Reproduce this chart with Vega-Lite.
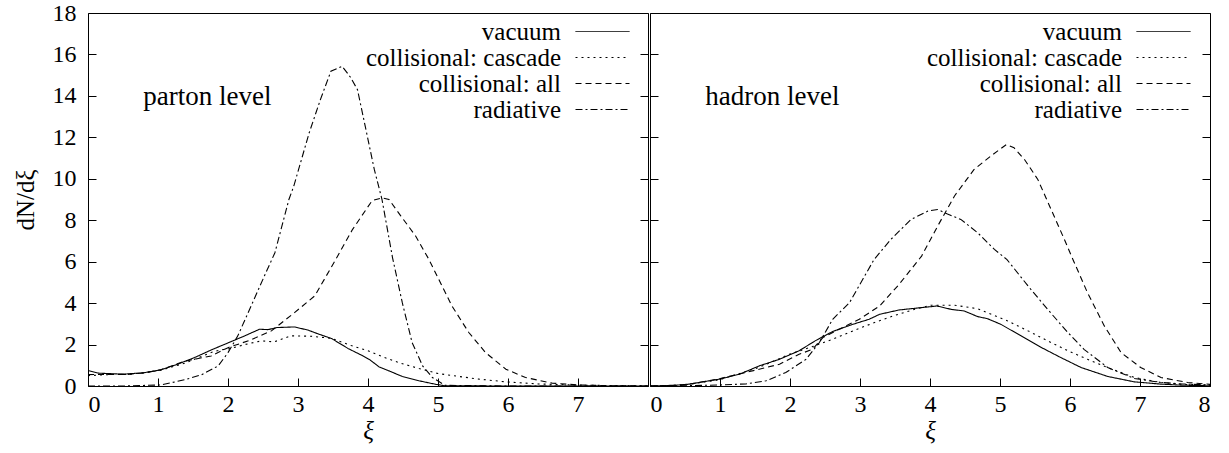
{
  "$schema": "https://vega.github.io/schema/vega-lite/v6.json",
  "background": "white",
  "padding": {"left": 12, "top": 0, "right": 0, "bottom": 0},
  "spacing": 0,
  "config": {
    "font": "'Liberation Serif', 'DejaVu Serif', serif",
    "view": {"stroke": "black", "strokeWidth": 1},
    "axis": {"domain": false, "grid": false, "tickColor": "black", "tickSize": -8, "tickWidth": 1, "labelColor": "black", "labelFont": "'Liberation Serif', 'DejaVu Serif', serif", "labelFontSize": 24, "titleFont": "'Liberation Serif', 'DejaVu Serif', serif", "titleFontSize": 25, "titleColor": "black", "titleFontWeight": "normal"},
    "legend": {"title": null, "orient": "none", "padding": 0, "labelFont": "'Liberation Serif', 'DejaVu Serif', serif", "labelFontSize": 25, "labelColor": "black", "labelAlign": "right", "labelOffset": -54, "labelLimit": 400, "symbolType": "M-2.7,0L2.7,0", "symbolSize": 400, "symbolStrokeWidth": 1, "symbolStrokeColor": "black", "symbolFillColor": "transparent", "symbolOpacity": 1, "rowPadding": -1}
  },
  "resolve": {"scale": {"strokeDash": "independent"}, "legend": {"strokeDash": "independent"}},
  "datasets": {
    "d": [
      {"p":"parton","s":"vacuum","x":0,"y":0.75},{"p":"parton","s":"vacuum","x":0.15,"y":0.62},{"p":"parton","s":"vacuum","x":0.5,"y":0.57},{"p":"parton","s":"vacuum","x":0.8,"y":0.64},{"p":"parton","s":"vacuum","x":1.04,"y":0.78},{"p":"parton","s":"vacuum","x":1.28,"y":1.05},{"p":"parton","s":"vacuum","x":1.52,"y":1.37},{"p":"parton","s":"vacuum","x":1.76,"y":1.74},{"p":"parton","s":"vacuum","x":2.0,"y":2.08},{"p":"parton","s":"vacuum","x":2.24,"y":2.42},{"p":"parton","s":"vacuum","x":2.45,"y":2.74},{"p":"parton","s":"vacuum","x":2.57,"y":2.72},{"p":"parton","s":"vacuum","x":2.7,"y":2.82},{"p":"parton","s":"vacuum","x":2.95,"y":2.85},{"p":"parton","s":"vacuum","x":3.14,"y":2.7},{"p":"parton","s":"vacuum","x":3.3,"y":2.5},{"p":"parton","s":"vacuum","x":3.48,"y":2.29},{"p":"parton","s":"vacuum","x":3.72,"y":1.8},{"p":"parton","s":"vacuum","x":3.9,"y":1.5},{"p":"parton","s":"vacuum","x":4.02,"y":1.28},{"p":"parton","s":"vacuum","x":4.16,"y":0.92},{"p":"parton","s":"vacuum","x":4.3,"y":0.73},{"p":"parton","s":"vacuum","x":4.49,"y":0.46},{"p":"parton","s":"vacuum","x":4.73,"y":0.25},{"p":"parton","s":"vacuum","x":4.97,"y":0.08},{"p":"parton","s":"vacuum","x":5.1,"y":0.01},{"p":"parton","s":"vacuum","x":6,"y":0},{"p":"parton","s":"vacuum","x":7,"y":0},{"p":"parton","s":"vacuum","x":8,"y":0},
      {"p":"parton","s":"collisional: cascade","x":0,"y":0.5},{"p":"parton","s":"collisional: cascade","x":0.3,"y":0.55},{"p":"parton","s":"collisional: cascade","x":0.56,"y":0.56},{"p":"parton","s":"collisional: cascade","x":0.8,"y":0.64},{"p":"parton","s":"collisional: cascade","x":1.04,"y":0.76},{"p":"parton","s":"collisional: cascade","x":1.38,"y":1.1},{"p":"parton","s":"collisional: cascade","x":1.76,"y":1.62},{"p":"parton","s":"collisional: cascade","x":1.9,"y":1.75},{"p":"parton","s":"collisional: cascade","x":2.0,"y":1.78},{"p":"parton","s":"collisional: cascade","x":2.24,"y":2.0},{"p":"parton","s":"collisional: cascade","x":2.48,"y":2.18},{"p":"parton","s":"collisional: cascade","x":2.66,"y":2.13},{"p":"parton","s":"collisional: cascade","x":2.9,"y":2.42},{"p":"parton","s":"collisional: cascade","x":3.19,"y":2.4},{"p":"parton","s":"collisional: cascade","x":3.48,"y":2.3},{"p":"parton","s":"collisional: cascade","x":3.76,"y":1.95},{"p":"parton","s":"collisional: cascade","x":4.0,"y":1.7},{"p":"parton","s":"collisional: cascade","x":4.2,"y":1.42},{"p":"parton","s":"collisional: cascade","x":4.44,"y":1.13},{"p":"parton","s":"collisional: cascade","x":4.73,"y":0.84},{"p":"parton","s":"collisional: cascade","x":5.0,"y":0.6},{"p":"parton","s":"collisional: cascade","x":5.3,"y":0.46},{"p":"parton","s":"collisional: cascade","x":5.59,"y":0.33},{"p":"parton","s":"collisional: cascade","x":5.97,"y":0.2},{"p":"parton","s":"collisional: cascade","x":6.44,"y":0.1},{"p":"parton","s":"collisional: cascade","x":6.9,"y":0.05},{"p":"parton","s":"collisional: cascade","x":7.5,"y":0.02},{"p":"parton","s":"collisional: cascade","x":8,"y":0.01},
      {"p":"parton","s":"collisional: all","x":0,"y":0.55},{"p":"parton","s":"collisional: all","x":0.3,"y":0.56},{"p":"parton","s":"collisional: all","x":0.56,"y":0.56},{"p":"parton","s":"collisional: all","x":0.8,"y":0.63},{"p":"parton","s":"collisional: all","x":1.04,"y":0.78},{"p":"parton","s":"collisional: all","x":1.38,"y":1.2},{"p":"parton","s":"collisional: all","x":1.76,"y":1.45},{"p":"parton","s":"collisional: all","x":2.0,"y":1.85},{"p":"parton","s":"collisional: all","x":2.33,"y":2.23},{"p":"parton","s":"collisional: all","x":2.62,"y":2.66},{"p":"parton","s":"collisional: all","x":2.95,"y":3.54},{"p":"parton","s":"collisional: all","x":3.24,"y":4.35},{"p":"parton","s":"collisional: all","x":3.54,"y":6.11},{"p":"parton","s":"collisional: all","x":3.78,"y":7.56},{"p":"parton","s":"collisional: all","x":4.06,"y":8.95},{"p":"parton","s":"collisional: all","x":4.2,"y":9.08},{"p":"parton","s":"collisional: all","x":4.3,"y":9.0},{"p":"parton","s":"collisional: all","x":4.47,"y":8.2},{"p":"parton","s":"collisional: all","x":4.68,"y":7.24},{"p":"parton","s":"collisional: all","x":4.87,"y":6.11},{"p":"parton","s":"collisional: all","x":5.01,"y":5.15},{"p":"parton","s":"collisional: all","x":5.2,"y":3.86},{"p":"parton","s":"collisional: all","x":5.44,"y":2.58},{"p":"parton","s":"collisional: all","x":5.68,"y":1.61},{"p":"parton","s":"collisional: all","x":5.97,"y":0.81},{"p":"parton","s":"collisional: all","x":6.25,"y":0.41},{"p":"parton","s":"collisional: all","x":6.63,"y":0.14},{"p":"parton","s":"collisional: all","x":7.0,"y":0.05},{"p":"parton","s":"collisional: all","x":7.5,"y":0.01},{"p":"parton","s":"collisional: all","x":8,"y":0},
      {"p":"parton","s":"radiative","x":0,"y":0},{"p":"parton","s":"radiative","x":0.5,"y":0},{"p":"parton","s":"radiative","x":1.04,"y":0.05},{"p":"parton","s":"radiative","x":1.38,"y":0.3},{"p":"parton","s":"radiative","x":1.62,"y":0.54},{"p":"parton","s":"radiative","x":1.86,"y":0.97},{"p":"parton","s":"radiative","x":2.0,"y":1.61},{"p":"parton","s":"radiative","x":2.14,"y":2.42},{"p":"parton","s":"radiative","x":2.33,"y":3.86},{"p":"parton","s":"radiative","x":2.52,"y":5.31},{"p":"parton","s":"radiative","x":2.67,"y":6.43},{"p":"parton","s":"radiative","x":2.87,"y":9.0},{"p":"parton","s":"radiative","x":2.94,"y":9.65},{"p":"parton","s":"radiative","x":3.16,"y":12.22},{"p":"parton","s":"radiative","x":3.32,"y":13.82},{"p":"parton","s":"radiative","x":3.47,"y":15.19},{"p":"parton","s":"radiative","x":3.63,"y":15.43},{"p":"parton","s":"radiative","x":3.75,"y":14.9},{"p":"parton","s":"radiative","x":3.85,"y":14.3},{"p":"parton","s":"radiative","x":3.97,"y":12.38},{"p":"parton","s":"radiative","x":4.09,"y":10.45},{"p":"parton","s":"radiative","x":4.2,"y":9.0},{"p":"parton","s":"radiative","x":4.35,"y":6.2},{"p":"parton","s":"radiative","x":4.49,"y":4.02},{"p":"parton","s":"radiative","x":4.63,"y":2.1},{"p":"parton","s":"radiative","x":4.78,"y":0.97},{"p":"parton","s":"radiative","x":4.92,"y":0.41},{"p":"parton","s":"radiative","x":5.1,"y":0.03},{"p":"parton","s":"radiative","x":6,"y":0},{"p":"parton","s":"radiative","x":8,"y":0},
      {"p":"hadron","s":"vacuum","x":0,"y":0},{"p":"hadron","s":"vacuum","x":0.3,"y":0.02},{"p":"hadron","s":"vacuum","x":0.56,"y":0.09},{"p":"hadron","s":"vacuum","x":0.99,"y":0.33},{"p":"hadron","s":"vacuum","x":1.28,"y":0.57},{"p":"hadron","s":"vacuum","x":1.56,"y":0.97},{"p":"hadron","s":"vacuum","x":1.85,"y":1.29},{"p":"hadron","s":"vacuum","x":2.13,"y":1.7},{"p":"hadron","s":"vacuum","x":2.37,"y":2.2},{"p":"hadron","s":"vacuum","x":2.61,"y":2.63},{"p":"hadron","s":"vacuum","x":2.9,"y":2.98},{"p":"hadron","s":"vacuum","x":3.13,"y":3.22},{"p":"hadron","s":"vacuum","x":3.28,"y":3.46},{"p":"hadron","s":"vacuum","x":3.56,"y":3.67},{"p":"hadron","s":"vacuum","x":3.87,"y":3.78},{"p":"hadron","s":"vacuum","x":4.1,"y":3.86},{"p":"hadron","s":"vacuum","x":4.3,"y":3.7},{"p":"hadron","s":"vacuum","x":4.49,"y":3.62},{"p":"hadron","s":"vacuum","x":4.68,"y":3.35},{"p":"hadron","s":"vacuum","x":4.82,"y":3.25},{"p":"hadron","s":"vacuum","x":5.01,"y":2.98},{"p":"hadron","s":"vacuum","x":5.3,"y":2.42},{"p":"hadron","s":"vacuum","x":5.59,"y":1.86},{"p":"hadron","s":"vacuum","x":5.87,"y":1.37},{"p":"hadron","s":"vacuum","x":6.16,"y":0.89},{"p":"hadron","s":"vacuum","x":6.54,"y":0.46},{"p":"hadron","s":"vacuum","x":6.92,"y":0.2},{"p":"hadron","s":"vacuum","x":7.3,"y":0.09},{"p":"hadron","s":"vacuum","x":7.6,"y":0.04},{"p":"hadron","s":"vacuum","x":8,"y":0.01},
      {"p":"hadron","s":"collisional: cascade","x":0,"y":0},{"p":"hadron","s":"collisional: cascade","x":0.5,"y":0.05},{"p":"hadron","s":"collisional: cascade","x":0.99,"y":0.3},{"p":"hadron","s":"collisional: cascade","x":1.56,"y":0.9},{"p":"hadron","s":"collisional: cascade","x":1.99,"y":1.53},{"p":"hadron","s":"collisional: cascade","x":2.32,"y":1.9},{"p":"hadron","s":"collisional: cascade","x":2.61,"y":2.26},{"p":"hadron","s":"collisional: cascade","x":2.9,"y":2.66},{"p":"hadron","s":"collisional: cascade","x":3.18,"y":3.03},{"p":"hadron","s":"collisional: cascade","x":3.47,"y":3.38},{"p":"hadron","s":"collisional: cascade","x":3.75,"y":3.67},{"p":"hadron","s":"collisional: cascade","x":4.01,"y":3.9},{"p":"hadron","s":"collisional: cascade","x":4.35,"y":3.9},{"p":"hadron","s":"collisional: cascade","x":4.68,"y":3.73},{"p":"hadron","s":"collisional: cascade","x":4.82,"y":3.54},{"p":"hadron","s":"collisional: cascade","x":5.11,"y":3.14},{"p":"hadron","s":"collisional: cascade","x":5.4,"y":2.66},{"p":"hadron","s":"collisional: cascade","x":5.68,"y":2.18},{"p":"hadron","s":"collisional: cascade","x":5.97,"y":1.7},{"p":"hadron","s":"collisional: cascade","x":6.25,"y":1.29},{"p":"hadron","s":"collisional: cascade","x":6.54,"y":0.89},{"p":"hadron","s":"collisional: cascade","x":6.92,"y":0.41},{"p":"hadron","s":"collisional: cascade","x":7.3,"y":0.17},{"p":"hadron","s":"collisional: cascade","x":7.6,"y":0.08},{"p":"hadron","s":"collisional: cascade","x":8,"y":0.04},
      {"p":"hadron","s":"collisional: all","x":0,"y":0},{"p":"hadron","s":"collisional: all","x":0.5,"y":0.05},{"p":"hadron","s":"collisional: all","x":0.99,"y":0.35},{"p":"hadron","s":"collisional: all","x":1.56,"y":0.81},{"p":"hadron","s":"collisional: all","x":1.85,"y":1.05},{"p":"hadron","s":"collisional: all","x":2.13,"y":1.53},{"p":"hadron","s":"collisional: all","x":2.32,"y":1.77},{"p":"hadron","s":"collisional: all","x":2.47,"y":2.34},{"p":"hadron","s":"collisional: all","x":2.7,"y":2.74},{"p":"hadron","s":"collisional: all","x":2.99,"y":3.22},{"p":"hadron","s":"collisional: all","x":3.28,"y":3.86},{"p":"hadron","s":"collisional: all","x":3.56,"y":4.91},{"p":"hadron","s":"collisional: all","x":3.88,"y":6.27},{"p":"hadron","s":"collisional: all","x":4.11,"y":7.72},{"p":"hadron","s":"collisional: all","x":4.35,"y":9.17},{"p":"hadron","s":"collisional: all","x":4.63,"y":10.45},{"p":"hadron","s":"collisional: all","x":4.87,"y":11.1},{"p":"hadron","s":"collisional: all","x":5.09,"y":11.65},{"p":"hadron","s":"collisional: all","x":5.2,"y":11.5},{"p":"hadron","s":"collisional: all","x":5.35,"y":10.93},{"p":"hadron","s":"collisional: all","x":5.54,"y":9.97},{"p":"hadron","s":"collisional: all","x":5.73,"y":8.52},{"p":"hadron","s":"collisional: all","x":5.92,"y":7.07},{"p":"hadron","s":"collisional: all","x":6.03,"y":6.2},{"p":"hadron","s":"collisional: all","x":6.25,"y":4.5},{"p":"hadron","s":"collisional: all","x":6.49,"y":2.9},{"p":"hadron","s":"collisional: all","x":6.73,"y":1.61},{"p":"hadron","s":"collisional: all","x":7.01,"y":0.89},{"p":"hadron","s":"collisional: all","x":7.3,"y":0.41},{"p":"hadron","s":"collisional: all","x":7.68,"y":0.17},{"p":"hadron","s":"collisional: all","x":8,"y":0.08},
      {"p":"hadron","s":"radiative","x":0,"y":0},{"p":"hadron","s":"radiative","x":0.5,"y":0.01},{"p":"hadron","s":"radiative","x":1.0,"y":0.05},{"p":"hadron","s":"radiative","x":1.37,"y":0.1},{"p":"hadron","s":"radiative","x":1.66,"y":0.25},{"p":"hadron","s":"radiative","x":1.94,"y":0.65},{"p":"hadron","s":"radiative","x":2.23,"y":1.29},{"p":"hadron","s":"radiative","x":2.42,"y":2.1},{"p":"hadron","s":"radiative","x":2.61,"y":3.22},{"p":"hadron","s":"radiative","x":2.85,"y":4.02},{"p":"hadron","s":"radiative","x":3.04,"y":5.15},{"p":"hadron","s":"radiative","x":3.2,"y":6.1},{"p":"hadron","s":"radiative","x":3.44,"y":7.07},{"p":"hadron","s":"radiative","x":3.73,"y":8.04},{"p":"hadron","s":"radiative","x":3.97,"y":8.44},{"p":"hadron","s":"radiative","x":4.11,"y":8.52},{"p":"hadron","s":"radiative","x":4.25,"y":8.3},{"p":"hadron","s":"radiative","x":4.44,"y":8.04},{"p":"hadron","s":"radiative","x":4.68,"y":7.4},{"p":"hadron","s":"radiative","x":4.92,"y":6.59},{"p":"hadron","s":"radiative","x":5.1,"y":6.1},{"p":"hadron","s":"radiative","x":5.4,"y":4.83},{"p":"hadron","s":"radiative","x":5.68,"y":3.7},{"p":"hadron","s":"radiative","x":5.97,"y":2.58},{"p":"hadron","s":"radiative","x":6.2,"y":1.77},{"p":"hadron","s":"radiative","x":6.54,"y":0.89},{"p":"hadron","s":"radiative","x":6.92,"y":0.36},{"p":"hadron","s":"radiative","x":7.3,"y":0.17},{"p":"hadron","s":"radiative","x":7.6,"y":0.1},{"p":"hadron","s":"radiative","x":8,"y":0.05}
    ]
  },
  "hconcat": [
    {
      "width": 560,
      "height": 373,
      "resolve": {"axis": {"y": "independent"}},
      "layer": [
        {
          "data": {"name": "d"},
          "transform": [{"filter": "datum.p == 'parton'"}],
          "mark": {"type": "line", "color": "black", "strokeWidth": 1.1, "clip": true},
          "encoding": {
            "x": {"field": "x", "type": "quantitative", "scale": {"domain": [0, 8], "nice": false}, "axis": {"values": [0,1,2,3,4,5,6,7,8], "format": "d", "labelPadding": 14, "labelExpr": "datum.value == 8 ? '' : datum.label", "title": "ξ", "titleFontStyle": "italic", "titlePadding": 2}},
            "y": {"field": "y", "type": "quantitative", "scale": {"domain": [0, 18], "nice": false}, "axis": {"values": [0,2,4,6,8,10,12,14,16,18], "labelPadding": 20, "title": "dN/dξ", "titlePadding": 14}},
            "strokeDash": {"field": "s", "type": "nominal", "scale": {"domain": ["vacuum", "collisional: cascade", "collisional: all", "radiative"], "range": [[1, 0], [2, 4], [6, 4], [7, 3, 2, 3]]}, "legend": {"legendX": 502, "legendY": 6}},
            "order": {"field": "x", "type": "quantitative"}
          }
        },
        {
          "data": {"values": [{"t": "parton level"}]},
          "mark": {"type": "text", "align": "left", "baseline": "alphabetic", "fontSize": 27, "font": "'Liberation Serif', 'DejaVu Serif', serif", "color": "black"},
          "encoding": {
            "x": {"datum": 0.79, "type": "quantitative"},
            "y": {"datum": 13.55, "type": "quantitative", "axis": {"orient": "right", "values": [0,2,4,6,8,10,12,14,16,18], "labels": false, "title": null}},
            "text": {"field": "t"}
          }
        }
      ]
    },
    {
      "width": 560,
      "height": 373,
      "resolve": {"axis": {"y": "independent"}},
      "layer": [
        {
          "data": {"name": "d"},
          "transform": [{"filter": "datum.p == 'hadron'"}],
          "mark": {"type": "line", "color": "black", "strokeWidth": 1.1, "clip": true},
          "encoding": {
            "x": {"field": "x", "type": "quantitative", "scale": {"domain": [0, 8], "nice": false}, "axis": {"values": [0,1,2,3,4,5,6,7,8], "format": "d", "labelPadding": 14, "title": "ξ", "titleFontStyle": "italic", "titlePadding": 2}},
            "y": {"field": "y", "type": "quantitative", "scale": {"domain": [0, 18], "nice": false}, "axis": {"values": [0,2,4,6,8,10,12,14,16,18], "labels": false, "title": null}},
            "strokeDash": {"field": "s", "type": "nominal", "scale": {"domain": ["vacuum", "collisional: cascade", "collisional: all", "radiative"], "range": [[1, 0], [2, 4], [6, 4], [7, 3, 2, 3]]}, "legend": {"legendX": 501, "legendY": 6}},
            "order": {"field": "x", "type": "quantitative"}
          }
        },
        {
          "data": {"values": [{"t": "hadron level"}]},
          "mark": {"type": "text", "align": "left", "baseline": "alphabetic", "fontSize": 27, "font": "'Liberation Serif', 'DejaVu Serif', serif", "color": "black"},
          "encoding": {
            "x": {"datum": 0.79, "type": "quantitative"},
            "y": {"datum": 13.55, "type": "quantitative", "axis": {"orient": "right", "values": [0,2,4,6,8,10,12,14,16,18], "labels": false, "title": null}},
            "text": {"field": "t"}
          }
        }
      ]
    }
  ]
}
